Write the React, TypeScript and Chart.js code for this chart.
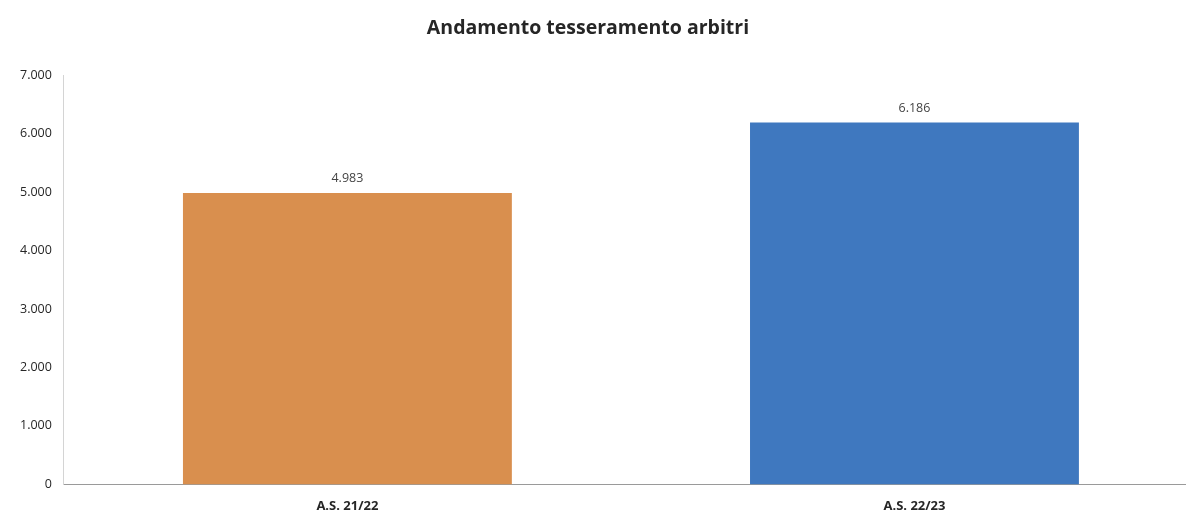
import React, { useEffect, useRef } from "react";
import { Chart, registerables } from "chart.js";

Chart.register(...registerables);

const categories = ["A.S. 21/22", "A.S. 22/23"];
const values = [4983, 6186];
const barColors = ["#D98F4E", "#3F78BF"];
const yTicks = [0, 1000, 2000, 3000, 4000, 5000, 6000, 7000];
const title = "Andamento tesseramento arbitri";

const fmtDot = (v: number) => {
  const s = Math.round(v).toString();
  return s.replace(/\B(?=(\d{3})+(?!\d))/g, ".");
};

const valueLabels = {
  id: "valueLabels",
  afterDatasetsDraw(chart: any) {
    const ctx = chart.ctx;
    const meta = chart.getDatasetMeta(0);
    ctx.save();
    ctx.font = "12.5px 'Open Sans', sans-serif";
    ctx.fillStyle = "#454545";
    ctx.textAlign = "center";
    ctx.textBaseline = "bottom";
    meta.data.forEach((bar: any, i: number) => {
      ctx.fillText(fmtDot(values[i]), bar.x, bar.y - 8);
    });
    ctx.restore();
  },
};

const titlePlugin = {
  id: "titleText",
  afterDraw(chart: any) {
    const ctx = chart.ctx;
    ctx.save();
    ctx.font = "bold 19.5px 'Open Sans', sans-serif";
    ctx.fillStyle = "#262626";
    ctx.textAlign = "center";
    ctx.textBaseline = "middle";
    ctx.fillText(title, 588, 28);
    ctx.restore();
  },
};

export default function App() {
  const ref = useRef<HTMLCanvasElement>(null);
  useEffect(() => {
    if (!ref.current) return;
    const chart = new Chart(ref.current, {
      type: "bar",
      data: {
        labels: categories,
        datasets: [
          {
            data: values,
            backgroundColor: barColors,
            categoryPercentage: 1,
            barPercentage: 0.58,
          },
        ],
      },
      options: {
        animation: false,
        responsive: true,
        maintainAspectRatio: false,
        layout: { padding: { left: 8, right: 0, top: 75, bottom: 6 } },
        plugins: {
          legend: { display: false },
          tooltip: { enabled: false },
          title: { display: false },
        },
        scales: {
          x: {
            grid: { display: false, drawTicks: false },
            border: { display: true, color: "#9a9a9a", width: 1 },
            ticks: {
              color: "#262626",
              font: { family: "'Open Sans', sans-serif", size: 13, weight: "bold" },
              padding: 14,
            },
          },
          y: {
            min: 0,
            max: 7000,
            afterBuildTicks: (axis: any) => {
              axis.ticks = yTicks.map((v) => ({ value: v }));
            },
            grid: { display: false, drawTicks: false },
            border: { display: true, color: "#d4d4d4", width: 1 },
            ticks: {
              color: "#262626",
              font: { family: "'Open Sans', sans-serif", size: 12.5 },
              padding: 12,
              callback: (v: any) => fmtDot(Number(v)),
            },
          },
        },
      },
      plugins: [valueLabels, titlePlugin],
    });
    return () => chart.destroy();
  }, []);
  return (
    <div style={{ position: "fixed", left: 0, top: 0, width: 1198, height: 534, background: "#fff" }}>
      <canvas ref={ref} />
    </div>
  );
}
